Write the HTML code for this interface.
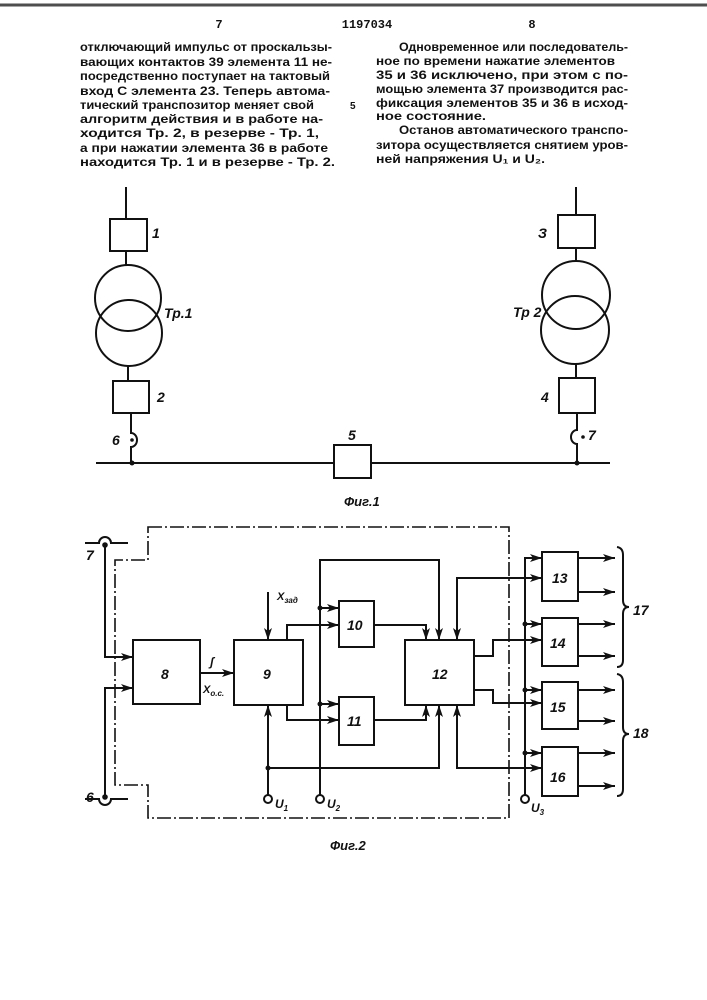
<!DOCTYPE html>
<html><head><meta charset="utf-8"><style>
html,body{margin:0;padding:0;background:#fff;}
svg{display:block;}
text{font-family:"Liberation Sans","DejaVu Sans",sans-serif;fill:#111;}
.t{font-family:"Liberation Mono","DejaVu Sans Mono",monospace;font-size:12px;font-weight:bold;}
.l{font-size:14px;font-weight:bold;font-style:italic;}
</style></head><body>
<svg width="707" height="1000" viewBox="0 0 707 1000" xmlns="http://www.w3.org/2000/svg">
<defs>
<marker id="a" viewBox="0 0 12 8" refX="12" refY="4" markerWidth="12" markerHeight="8" markerUnits="userSpaceOnUse" orient="auto-start-reverse">
<path d="M0,0 L12,4 L0,8 L3,4 Z" fill="#111"/>
</marker>
</defs>
<line x1="0" y1="5" x2="707" y2="5" stroke="#222" stroke-width="3" opacity="0.8"/>
<text class="t" x="219" y="28" text-anchor="middle">7</text>
<text class="t" x="367" y="28" text-anchor="middle">1197034</text>
<text class="t" x="532" y="28" text-anchor="middle">8</text>
<g class="t">
<text x="80" y="51" textLength="252" lengthAdjust="spacingAndGlyphs">отключающий импульс от проскальзы-</text>
<text x="80" y="66" textLength="252" lengthAdjust="spacingAndGlyphs">вающих контактов 39 элемента 11 не-</text>
<text x="80" y="80" textLength="250" lengthAdjust="spacingAndGlyphs">посредственно поступает на тактовый</text>
<text x="80" y="95" textLength="250" lengthAdjust="spacingAndGlyphs">вход С элемента 23. Теперь автома-</text>
<text x="80" y="109" textLength="234" lengthAdjust="spacingAndGlyphs">тический транспозитор меняет свой</text>
<text x="80" y="123" textLength="243" lengthAdjust="spacingAndGlyphs">алгоритм действия и в работе на-</text>
<text x="80" y="137" textLength="239" lengthAdjust="spacingAndGlyphs">ходится Тр. 2, в резерве - Тр. 1,</text>
<text x="80" y="152" textLength="248" lengthAdjust="spacingAndGlyphs">а при нажатии элемента 36 в работе</text>
<text x="80" y="166" textLength="255" lengthAdjust="spacingAndGlyphs">находится Тр. 1 и в резерве - Тр. 2.</text>

<text x="399" y="51" textLength="229" lengthAdjust="spacingAndGlyphs">Одновременное или последователь-</text>
<text x="376" y="65" textLength="239" lengthAdjust="spacingAndGlyphs">ное по времени  нажатие элементов</text>
<text x="376" y="79" textLength="252" lengthAdjust="spacingAndGlyphs">35 и 36 исключено, при этом с по-</text>
<text x="376" y="93" textLength="252" lengthAdjust="spacingAndGlyphs">мощью элемента 37 производится рас-</text>
<text x="376" y="107" textLength="252" lengthAdjust="spacingAndGlyphs">фиксация элементов 35 и 36 в исход-</text>
<text x="350" y="109" font-size="10">5</text>
<text x="376" y="120" textLength="110" lengthAdjust="spacingAndGlyphs">ное состояние.</text>
<text x="399" y="134" textLength="229" lengthAdjust="spacingAndGlyphs">Останов автоматического транспо-</text>
<text x="376" y="149" textLength="252" lengthAdjust="spacingAndGlyphs">зитора осуществляется снятием уров-</text>
<text x="376" y="163" textLength="169" lengthAdjust="spacingAndGlyphs">ней напряжения U₁ и U₂.</text>
</g>

<!-- FIG 1 -->
<g stroke="#111" stroke-width="2" fill="none">
<line x1="126" y1="187" x2="126" y2="219"/>
<rect x="110" y="219" width="37" height="32"/>
<line x1="126" y1="251" x2="126" y2="265"/>
<circle cx="128" cy="298" r="33"/>
<circle cx="129" cy="333" r="33"/>
<line x1="128" y1="366" x2="128" y2="381"/>
<rect x="113" y="381" width="36" height="32"/>
<path d="M131,413 V433 A6,7 0 0 1 131,447 V463"/>
<line x1="96" y1="463" x2="334" y2="463"/>
<rect x="334" y="445" width="37" height="33"/>
<line x1="371" y1="463" x2="610" y2="463"/>
<line x1="576" y1="187" x2="576" y2="215"/>
<rect x="558" y="215" width="37" height="33"/>
<line x1="576" y1="248" x2="576" y2="261"/>
<circle cx="576" cy="295" r="34"/>
<circle cx="575" cy="330" r="34"/>
<line x1="576" y1="364" x2="576" y2="378"/>
<rect x="559" y="378" width="36" height="35"/>
<path d="M577,413 V430 A6,7 0 0 0 577,444 V463"/>
</g>
<circle cx="132" cy="463" r="2.5" fill="#111"/>
<circle cx="577" cy="463" r="2.5" fill="#111"/>
<circle cx="132" cy="440" r="1.8" fill="#111"/>
<circle cx="583" cy="437" r="1.8" fill="#111"/>
<g class="l">
<text x="152" y="238">1</text>
<text x="164" y="318">Тр.1</text>
<text x="157" y="402">2</text>
<text x="112" y="445">6</text>
<text x="538" y="238">З</text>
<text x="513" y="317">Тр 2</text>
<text x="541" y="402">4</text>
<text x="588" y="440">7</text>
<text x="348" y="440">5</text>
<text x="344" y="506" font-size="13">Фиг.1</text>
</g>

<!-- FIG 2 -->
<g stroke="#111" stroke-width="2" fill="none">
<path d="M148,527 H509 V818 H148 V785 H115 V560 H148 Z" stroke-width="1.6" stroke-dasharray="14 3 2 3"/>
<path d="M85,543 H99 A6,6 0 0 1 111,543 H128"/>
<path d="M85,799 H99 A6,6 0 0 0 111,799 H128"/>
<path d="M105,545 V657 H133" marker-end="url(#a)"/>
<path d="M105,797 V688 H133" marker-end="url(#a)"/>
<rect x="133" y="640" width="67" height="64"/>
<rect x="234" y="640" width="69" height="65"/>
<rect x="339" y="601" width="35" height="46"/>
<rect x="339" y="697" width="35" height="48"/>
<rect x="405" y="640" width="69" height="65"/>
<rect x="542" y="552" width="36" height="49"/>
<rect x="542" y="618" width="36" height="48"/>
<rect x="542" y="682" width="36" height="47"/>
<rect x="542" y="747" width="36" height="49"/>
<path d="M200,673 H234" marker-end="url(#a)"/>
<path d="M268,592 V640" marker-end="url(#a)"/>
<path d="M268,796 V705" marker-end="url(#a)"/>
<path d="M268,768 H439 V705" marker-end="url(#a)"/>
<path d="M320,796 V560 H439 V640" marker-end="url(#a)"/>
<path d="M320,608 H339" marker-end="url(#a)"/>
<path d="M320,704 H339" marker-end="url(#a)"/>
<path d="M287,640 V625 H339" marker-end="url(#a)"/>
<path d="M287,705 V720 H339" marker-end="url(#a)"/>
<path d="M374,625 H426 V640" marker-end="url(#a)"/>
<path d="M374,720 H426 V705" marker-end="url(#a)"/>
<path d="M457,640 V578 H542" marker-end="url(#a)" marker-start="url(#a)"/>
<path d="M457,705 V768 H542" marker-end="url(#a)" marker-start="url(#a)"/>
<path d="M474,656 H493 V640 H542" marker-end="url(#a)"/>
<path d="M474,690 H493 V703 H542" marker-end="url(#a)"/>
<path d="M525,796 V558 H542" marker-end="url(#a)"/>
<path d="M525,624 H542" marker-end="url(#a)"/>
<path d="M525,690 H542" marker-end="url(#a)"/>
<path d="M525,753 H542" marker-end="url(#a)"/>
<path d="M578,558 H615" marker-end="url(#a)"/>
<path d="M578,592 H615" marker-end="url(#a)"/>
<path d="M578,624 H615" marker-end="url(#a)"/>
<path d="M578,656 H615" marker-end="url(#a)"/>
<path d="M578,690 H615" marker-end="url(#a)"/>
<path d="M578,721 H615" marker-end="url(#a)"/>
<path d="M578,753 H615" marker-end="url(#a)"/>
<path d="M578,786 H615" marker-end="url(#a)"/>
<path d="M617,547 Q623,548 623,555 V600 Q623,607 629,607 Q623,607 623,614 V660 Q623,667 617,667"/>
<path d="M617,674 Q623,675 623,682 V727 Q623,734 629,734 Q623,734 623,741 V789 Q623,796 617,796"/>
</g>
<g fill="#fff" stroke="#111" stroke-width="2">
<circle cx="268" cy="799" r="4"/>
<circle cx="320" cy="799" r="4"/>
<circle cx="525" cy="799" r="4"/>
</g>
<g fill="#111">
<circle cx="105" cy="545" r="2.8"/>
<circle cx="105" cy="797" r="2.8"/>
<circle cx="268" cy="768" r="2.5"/>
<circle cx="320" cy="608" r="2.5"/>
<circle cx="320" cy="704" r="2.5"/>
<circle cx="525" cy="624" r="2.5"/>
<circle cx="525" cy="690" r="2.5"/>
<circle cx="525" cy="753" r="2.5"/>
</g>
<g class="l">
<text x="86" y="560">7</text>
<text x="86" y="802">6</text>
<text x="161" y="679">8</text>
<text x="263" y="679">9</text>
<text x="347" y="630">10</text>
<text x="347" y="726">11</text>
<text x="432" y="679">12</text>
<text x="552" y="583">13</text>
<text x="550" y="648">14</text>
<text x="550" y="712">15</text>
<text x="550" y="782">16</text>
<text x="633" y="615">17</text>
<text x="633" y="738">18</text>
<text x="210" y="666" font-size="12">ʃ</text>
<text x="203" y="693" font-size="11">X<tspan font-size="8" dy="3">o.c.</tspan></text>
<text x="277" y="600" font-size="11">X<tspan font-size="8" dy="3">зад</tspan></text>
<text x="275" y="808" font-size="12">U<tspan font-size="8" dy="3">1</tspan></text>
<text x="327" y="808" font-size="12">U<tspan font-size="8" dy="3">2</tspan></text>
<text x="531" y="812" font-size="12">U<tspan font-size="8" dy="3">3</tspan></text>
<text x="330" y="850" font-size="13">Фиг.2</text>
</g>
</svg>
</body></html>
